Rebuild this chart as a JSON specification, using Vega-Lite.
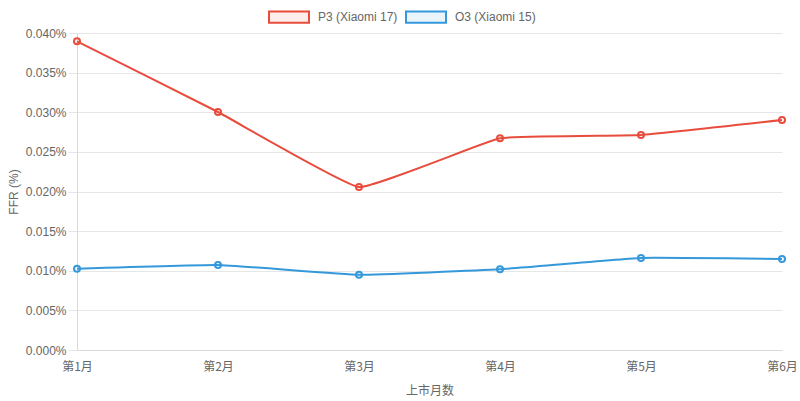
{
  "$schema": "https://vega.github.io/schema/vega-lite/v6.json",
  "autosize": {"type": "none"},
  "width": 705,
  "height": 317,
  "padding": {"left": 77, "top": 33, "right": 18, "bottom": 51},
  "background": "white",
  "data": {
    "values": [
      {"month": "第1月", "series": "P3 (Xiaomi 17)", "ffr": 0.03895},
      {"month": "第2月", "series": "P3 (Xiaomi 17)", "ffr": 0.03003},
      {"month": "第3月", "series": "P3 (Xiaomi 17)", "ffr": 0.02057},
      {"month": "第4月", "series": "P3 (Xiaomi 17)", "ffr": 0.02671},
      {"month": "第5月", "series": "P3 (Xiaomi 17)", "ffr": 0.02713},
      {"month": "第6月", "series": "P3 (Xiaomi 17)", "ffr": 0.02902},
      {"month": "第1月", "series": "O3 (Xiaomi 15)", "ffr": 0.01026},
      {"month": "第2月", "series": "O3 (Xiaomi 15)", "ffr": 0.01073},
      {"month": "第3月", "series": "O3 (Xiaomi 15)", "ffr": 0.0095},
      {"month": "第4月", "series": "O3 (Xiaomi 15)", "ffr": 0.01018},
      {"month": "第5月", "series": "O3 (Xiaomi 15)", "ffr": 0.01161},
      {"month": "第6月", "series": "O3 (Xiaomi 15)", "ffr": 0.01148}
    ]
  },
  "encoding": {
    "x": {
      "field": "month",
      "type": "ordinal",
      "sort": null,
      "scale": {"type": "point", "padding": 0},
      "title": "上市月数",
      "axis": {
        "labelAngle": 0,
        "grid": false,
        "ticks": false,
        "domainColor": "#d9d9d9",
        "labelPadding": 11,
        "titlePadding": 13
      }
    },
    "y": {
      "field": "ffr",
      "type": "quantitative",
      "scale": {"domain": [0, 0.04], "nice": false},
      "title": "FFR (%)",
      "axis": {
        "values": [0, 0.005, 0.01, 0.015, 0.02, 0.025, 0.03, 0.035, 0.04],
        "labelExpr": "format(datum.value, '.3f') + '%'",
        "labelFont": "Liberation Sans",
        "titleFont": "Liberation Sans",
        "gridColor": "#e6e6e6",
        "tickColor": "#e6e6e6",
        "tickSize": 9,
        "domainColor": "#d9d9d9",
        "labelPadding": 2,
        "titlePadding": 5
      }
    },
    "color": {
      "field": "series",
      "type": "nominal",
      "sort": ["P3 (Xiaomi 17)", "O3 (Xiaomi 15)"],
      "scale": {
        "domain": ["P3 (Xiaomi 17)", "O3 (Xiaomi 15)"],
        "range": ["#e74c3c", "#3498db"]
      },
      "legend": {
        "title": null,
        "orient": "none",
        "direction": "horizontal",
        "legendX": 191,
        "legendY": -37,
        "symbolType": "M-1,-0.28H1V0.28H-1Z",
        "symbolSize": 1600,
        "symbolStrokeWidth": 2,
        "labelOffset": 8,
        "columnPadding": 4,
        "encode": {
          "symbols": {
            "update": {
              "fill": {"scale": "color", "field": "value"},
              "fillOpacity": {"value": 0.1},
              "stroke": {"scale": "color", "field": "value"},
              "strokeWidth": {"value": 2},
              "opacity": {"value": 1}
            }
          }
        }
      }
    }
  },
  "layer": [
    {
      "mark": {"type": "line", "interpolate": "cardinal", "tension": 0.7, "strokeWidth": 2}
    },
    {
      "mark": {"type": "point", "shape": "circle", "size": 36, "strokeWidth": 2, "filled": false, "opacity": 1}
    }
  ],
  "config": {
    "view": {"stroke": null},
    "font": "Liberation Sans",
    "axis": {
      "labelFont": "Noto Sans CJK SC",
      "labelFontSize": 12,
      "labelColor": "#666666",
      "titleFont": "Noto Sans CJK SC",
      "titleFontSize": 12,
      "titleFontWeight": "normal",
      "titleColor": "#666666"
    },
    "legend": {
      "labelFont": "Liberation Sans",
      "labelFontSize": 12,
      "labelColor": "#666666"
    }
  }
}
